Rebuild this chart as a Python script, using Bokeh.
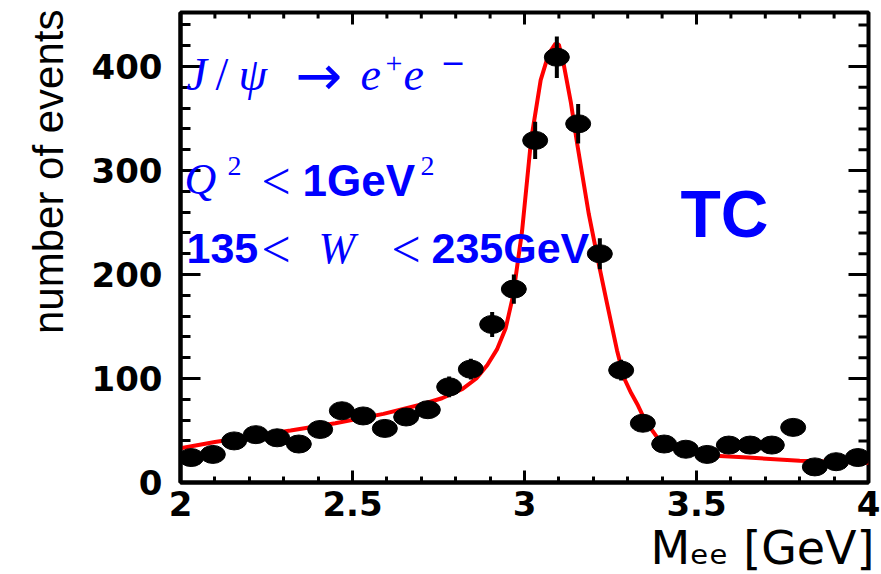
import math
from bokeh.plotting import figure
from bokeh.models import Label, LinearAxis, FixedTicker, Range1d, ColumnDataSource, Title
from bokeh.embed import file_html
from bokeh.resources import INLINE

# ---- data ----
bin_x = [2.031, 2.094, 2.156, 2.219, 2.281, 2.344, 2.406, 2.469, 2.531, 2.594,
         2.656, 2.719, 2.781, 2.844, 2.906, 2.969, 3.031, 3.094, 3.156, 3.219,
         3.281, 3.344, 3.406, 3.469, 3.531, 3.594, 3.656, 3.719, 3.781, 3.844,
         3.906, 3.969]
counts = [24, 27, 40, 46, 43, 37, 51, 69, 64, 52,
          63, 70, 92, 109, 152, 186, 329, 409, 345, 220,
          108, 57, 37, 32, 27, 36, 36, 36, 53, 15,
          20, 24]
errors = [5, 5, 6, 7, 7, 6, 7, 8, 8, 7,
          8, 8, 10, 10, 12, 14, 18, 20, 19, 15,
          10, 8, 6, 6, 5, 6, 6, 6, 7, 4,
          4, 5]

fit_x = [2.00, 2.10, 2.20, 2.32, 2.45, 2.59, 2.70, 2.76, 2.82, 2.86,
         2.892, 2.92, 2.945, 2.967, 2.993, 3.019, 3.047, 3.07, 3.09, 3.10,
         3.114, 3.135, 3.153, 3.187, 3.216, 3.24, 3.269, 3.29, 3.31, 3.33,
         3.35, 3.395, 3.453, 3.54, 3.65, 3.80, 3.90, 4.00]
fit_y = [33, 39, 44, 50, 57, 66, 75, 81, 90, 100,
         113, 128, 148, 180, 242, 329, 387, 412, 422, 421,
         402, 365, 326, 258, 210, 172, 127, 100, 86, 74,
         60, 39, 29, 26, 24, 21, 20, 19]

x_major = [2, 2.5, 3, 3.5, 4]
x_minor = [2.1, 2.2, 2.3, 2.4, 2.6, 2.7, 2.8, 2.9, 3.1, 3.2, 3.3, 3.4,
           3.6, 3.7, 3.8, 3.9]
y_major = [0, 100, 200, 300, 400]
y_minor = [20, 40, 60, 80, 120, 140, 160, 180, 220, 240, 260, 280,
           320, 340, 360, 380, 420, 440]

y_title = "number of events"
x_title = "Mₑₑ [GeV]"

BLUE = "#0000FF"
X0, X1, Y0, Y1 = 2.0, 4.0, 0.0, 452.0

p = figure(width=881, height=574, output_backend="svg", toolbar_location=None,
           x_range=Range1d(X0, X1), y_range=Range1d(Y0, Y1),
           min_border_left=180, min_border_right=13, min_border_top=12,
           min_border_bottom=92, x_axis_type=None, y_axis_type=None)
p.xgrid.visible = False
p.ygrid.visible = False
p.outline_line_color = "black"
p.outline_line_width = 4
p.background_fill_color = "white"
p.border_fill_color = "white"

xt = FixedTicker(ticks=x_major, minor_ticks=x_minor)
yt = FixedTicker(ticks=y_major, minor_ticks=y_minor)


def style_axis(ax, tick_in, minor_in):
    ax.axis_line_width = 4
    ax.axis_line_color = "black"
    ax.major_tick_in = tick_in
    ax.major_tick_out = 0
    ax.minor_tick_in = minor_in
    ax.minor_tick_out = 0
    ax.major_tick_line_width = 3
    ax.minor_tick_line_width = 3
    ax.major_label_text_font = "DejaVu Sans"
    ax.major_label_text_font_style = "bold"
    ax.major_label_text_font_size = "34px"
    ax.major_label_text_color = "black"


xb = LinearAxis(ticker=xt)
style_axis(xb, 12, 6)
xb.major_label_standoff = 8
p.add_layout(xb, "below")

yl = LinearAxis(ticker=yt)
style_axis(yl, 20, 10)
yl.major_label_standoff = 18
p.add_layout(yl, "left")

# frame in page pixels (used for tick lengths and text placement)
FL, FR, FT, FB = 180, 868, 12, 482
PX_X = (X1 - X0) / (FR - FL)   # data units per pixel, x
PX_Y = (Y1 - Y0) / (FB - FT)   # data units per pixel, y

# mirrored tick marks on the top and right edges of the frame
def top_ticks(xs, length_px):
    p.segment(x0=xs, y0=[Y1] * len(xs), x1=xs,
              y1=[Y1 - length_px * PX_Y] * len(xs),
              line_color="black", line_width=3)


def right_ticks(ys, length_px):
    p.segment(x0=[X1] * len(ys), y0=ys, x1=[X1 - length_px * PX_X] * len(ys),
              y1=ys, line_color="black", line_width=3)


top_ticks(x_major, 12)
top_ticks(x_minor, 6)
right_ticks(y_major, 20)
right_ticks(y_minor, 10)

# axis titles (ROOT style: aligned at the far end of each axis)
p.add_layout(Title(text=y_title, align="right", text_font="Liberation Sans",
                   text_font_size="42px", text_font_style="normal",
                   text_color="black", offset=-3, standoff=34), "left")
p.add_layout(Title(text=x_title, align="right", text_font="DejaVu Sans",
                   text_font_size="46px", text_font_style="normal",
                   text_color="black", offset=-6, standoff=0), "below")

# fit curve
p.line(fit_x, fit_y, line_color="#FF0000", line_width=4)

src = ColumnDataSource(dict(
    x=bin_x, y=counts,
    lo=[c - e for c, e in zip(counts, errors)],
    hi=[c + e for c, e in zip(counts, errors)]))
p.segment(x0="x", y0="lo", x1="x", y1="hi", source=src,
          line_color="black", line_width=4)
p.ellipse(x="x", y="y", width=25, height=18, width_units="screen",
          height_units="screen", source=src, fill_color="black",
          line_color="black")


def txt(t, cx, cy, size, font="Liberation Serif", style="normal",
        color=BLUE, align="left"):
    cy = cy - 0.35 * size  # label anchor sits ~0.35em above the baseline
    dx = X0 + (cx - FL) * PX_X
    dy = Y0 + (FB - cy) * PX_Y
    p.add_layout(Label(x=dx, y=dy, text=t, text_font=font,
                       text_font_size=f"{size}px", text_font_style=style,
                       text_color=color, text_align=align,
                       text_baseline="alphabetic"))


# line 1: J/psi -> e+ e-
txt("J", 186, 90, 46, style="italic")
txt("/", 215, 90, 46)
txt("ψ", 238, 90, 46, style="italic")
txt("→", 295, 95, 56, font="DejaVu Sans")
txt("e", 360, 90, 46, style="italic")
txt("+", 385, 73, 30)
txt("e", 403, 90, 46, style="italic")
txt("−", 440, 72, 30, font="DejaVu Sans")

# line 2: Q^2 < 1 GeV^2
txt("Q", 184, 194, 44, style="italic")
txt("2", 227, 175, 28)
txt("<", 261, 199, 52)
txt("1GeV", 302, 195, 44, font="Liberation Sans", style="bold")
txt("2", 420, 175, 28)

# line 3: 135 < W < 235 GeV
txt("135", 186, 263, 43, font="Liberation Sans", style="bold")
txt("<", 261, 267, 52)
txt("W", 318, 263, 44, style="italic")
txt("<", 391, 267, 52)
txt("235GeV", 431, 263, 43, font="Liberation Sans", style="bold")

# TC
txt("TC", 680, 237, 66, font="Liberation Sans", style="bold")

open("out.html", "w").write(file_html(p, INLINE))
